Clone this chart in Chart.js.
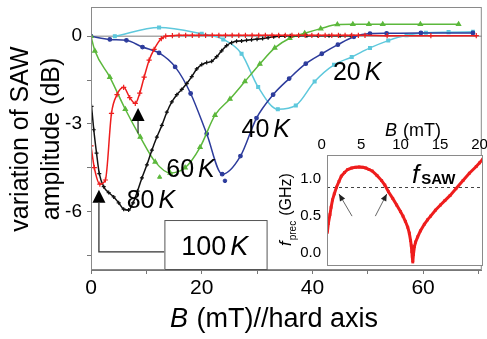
<!DOCTYPE html>
<html><head><meta charset="utf-8">
<script src="https://cdn.jsdelivr.net/npm/chart.js@4.4.1/dist/chart.umd.min.js"></script>
<style>
html,body{margin:0;padding:0;background:#fff;}
#wrap{position:relative;width:487px;height:339px;overflow:hidden;}
#main{position:absolute;left:0;top:0;}
#inset{position:absolute;left:270px;top:110px;}
</style></head><body>
<div id="wrap"><canvas id="main" width="487" height="339"></canvas><canvas id="inset" width="217" height="160"></canvas></div>
<script>
const FONT = "'Liberation Sans', Arial, Helvetica, sans-serif";

// ---------------- data (main panel) ----------------
const xTickValues = [0, 10, 20, 30, 40, 50, 60, 70];
const xTickLabels = [0, 20, 40, 60];
const yTickValues = [-7.5, -6, -4.5, -3, -1.5, 0];
const yTickLabels = [-6, -3, 0];

// 100 K (red)
const B_100K = [0, 0.6, 1.6, 2.6, 3.7, 4.7, 5.9, 7.0, 8.0, 8.8, 9.6, 10.5, 11.4, 12.7, 13.5,
  14.7, 15.9, 17.1, 18.3, 19.5, 20.7, 21.9, 23.1, 24.3, 25.5, 26.7, 27.9, 29.1, 30.3, 31.5,
  32.7, 33.9, 35.1, 36.3, 37.5, 38.7, 39.9, 41.1, 42.3, 43.5, 44.7, 45.9, 47.1, 48.3, 49.5,
  53.5, 61.4, 69.6];
const dB_100K = [-3.75, -4.5, -5.06, -4.92, -2.64, -2.0, -1.75, -2.1, -2.3, -1.95, -1.4, -0.82, -0.45, -0.08, 0.0,
  0.02, 0.03, 0.03, 0.03, 0.03, 0.03, 0.03, 0.03, 0.03, 0.03, 0.03, 0.03, 0.03, 0.03, 0.03,
  0.03, 0.03, 0.03, 0.03, 0.03, 0.03, 0.03, 0.03, 0.03, 0.03, 0.03, 0.03, 0.03, 0.03, 0.03,
  0.02, 0.02, 0.02];

// 80 K (black)
const B_80K = [0.1, 0.5, 1.0, 1.5, 2.3, 3.2, 4.1, 5.0, 5.9, 6.8, 7.6, 8.4, 9.2, 10.1, 11.0, 11.9,
  12.8, 13.7, 14.6, 15.5, 16.4, 17.3, 18.2, 19.1, 20.0, 20.9, 21.8, 22.7, 23.6, 24.5, 25.4,
  26.3, 27.2, 28.1, 29.0, 30.0, 31.0, 32.0, 33.0, 34.0, 35.0, 36.0, 37.5, 39, 41, 43, 45, 47];
const dB_80K = [-2.4, -3.2, -4.0, -4.7, -5.15, -5.35, -5.5, -5.7, -5.92, -5.95, -5.7, -5.3, -4.85, -4.4, -3.9, -3.45,
  -3.05, -2.6, -2.25, -2.0, -1.82, -1.62, -1.38, -1.12, -0.97, -0.9, -0.86, -0.7, -0.5, -0.32, -0.22,
  -0.17, -0.16, -0.14, -0.12, -0.1, -0.08, -0.05, -0.02, 0, 0.01, 0.02, 0.02, 0.02, 0.02, 0.02, 0.02, 0.02];

// 60 K (green)
const B_60K = [0, 0.7, 3.4, 6.2, 8.9, 11.6, 14.3, 17.0, 19.7, 22.4, 25.1, 27.8, 30.5, 33.2, 35.9,
  38.6, 41.5, 44.5, 47.3, 50.2, 52.7, 59.5, 66.4];
const dB_60K = [0, -0.5, -1.4, -2.5, -3.45, -4.3, -4.68, -4.5, -3.8, -2.7, -2.15, -1.55, -0.95, -0.4, -0.07,
  0.1, 0.26, 0.4, 0.41, 0.41, 0.41, 0.41, 0.41];
const B_60K_off = [12.4];
const dB_60K_off = [-4.82];

// 40 K (blue)
const B_40K = [0, 3.4, 6.4, 9.3, 12.3, 15.2, 18.0, 20.9, 23.7, 27.0, 29.9, 32.9, 35.8, 38.8, 41.7,
  44.6, 47.5, 50.4, 53.4, 59.6, 69.0];
const dB_40K = [0, -0.11, -0.14, -0.37, -0.57, -1.05, -1.96, -3.34, -4.72, -4.1, -2.8, -2.0, -1.45, -0.94, -0.6,
  -0.29, -0.02, 0.09, 0.1, 0.11, 0.11];
const B_40K_off = [24.2];
const dB_40K_off = [-4.95];

// 20 K (cyan)
const B_20K = [4.3, 12.3, 20.0, 23.9, 27.2, 30.2, 33.75, 37.0, 40.4, 43.9, 47.1, 50.4, 53.7, 57.0, 60.5, 64.6, 69.0];
const dB_20K = [0, 0.3, 0.08, -0.11, -0.6, -1.74, -2.5, -2.37, -1.55, -0.98, -0.71, -0.4, -0.15, 0.03, 0.12, 0.14, 0.15];

// ---------------- data (inset) ----------------
const insetTickX = [0, 5, 10, 15, 20];
const insetTickY = [0, 0.5, 1.0];
const fSAW = 0.9;
const B_inset = [0.72, 0.85, 1.05, 1.2, 1.38, 1.6, 1.88, 2.2, 2.49, 2.9, 3.3, 3.8, 4.3, 4.75, 5.2, 5.6, 6.0, 6.4,
  7.0, 7.6, 8.0, 8.46, 9.0, 9.5, 10.0, 10.3, 10.6, 10.9, 11.1, 11.26, 11.35, 11.42, 11.48, 11.54, 11.62,
  11.75, 11.9, 12.16, 12.5, 13.0, 13.4, 13.8, 14.4, 15.04, 15.6, 16.27, 17.0, 17.9, 18.7, 19.57, 20.0, 20.4];
const fprec_inset = [0.28, 0.40, 0.52, 0.62, 0.72, 0.80, 0.89, 0.97, 1.04, 1.09, 1.13, 1.15, 1.16, 1.165, 1.16, 1.15, 1.13, 1.11,
  1.05, 0.98, 0.92, 0.83, 0.74, 0.65, 0.56, 0.50, 0.43, 0.35, 0.27, 0.17, 0.10, 0.02, -0.05, -0.12, -0.02,
  0.09, 0.15, 0.22, 0.30, 0.39, 0.45, 0.50, 0.58, 0.65, 0.71, 0.78, 0.87, 0.98, 1.08, 1.17, 1.22, 1.27];

// ---------------- annotation layout ----------------
const tempLabels = [
  {num: '20', B: 43.7, dB: -1.5},
  {num: '40', B: 27.2, dB: -3.45},
  {num: '60', B: 13.6, dB: -4.82},
  {num: '80', B: 6.45, dB: -5.88}
];
const boxLabel = {num: '100', B0: 13.26, B1: 31.72, dBtop: -6.29, textB: 16.3, textDB: -7.49};
const arrowMarks = [
  {B: 1.43, dB: -5.25, tailDB: -7.38, toB: 13.26},
  {B: 8.5, dB: -2.46, tailDB: -3.32}
];
const insetArrows = [
  {fromB: 3.85, fromF: 0.5, toB: 2.2, toF: 0.8},
  {fromB: 6.8, fromF: 0.5, toB: 8.25, toF: 0.8}
];

const pts = (xs, ys) => xs.map((v, i) => ({x: v, y: ys[i]}));

function rich(ctx, parts, x, y) {
  let cx = x;
  for (const p of parts) {
    ctx.font = p.font;
    ctx.fillText(p.t, cx + (p.dx || 0), y + (p.dy || 0));
    cx += ctx.measureText(p.t).width + (p.gap || 0) + (p.dx || 0);
  }
  return cx;
}
function noPad(s) { s.paddingTop = 0; s.paddingBottom = 0; s.paddingLeft = 0; s.paddingRight = 0; }

const mainDeco = {
  id: 'mainDeco',
  beforeDatasetsDraw(chart) {
    const {ctx, chartArea: a, scales: {x, y}} = chart;
    ctx.save();
    ctx.strokeStyle = '#a9a9a9';
    ctx.lineWidth = 1.5;
    const y0 = y.getPixelForValue(0);
    ctx.beginPath(); ctx.moveTo(a.left, y0); ctx.lineTo(a.right, y0); ctx.stroke();
    ctx.restore();
  },
  afterDatasetsDraw(chart) {
    const {ctx, chartArea: a, scales: {x, y}} = chart;
    ctx.save();
    ctx.strokeStyle = '#8a8a8a'; ctx.lineWidth = 1;
    ctx.strokeRect(a.left + 0.5, a.top + 0.5, a.right - a.left - 1, a.bottom - a.top - 1);
    ctx.fillStyle = '#000'; ctx.textBaseline = 'alphabetic'; ctx.textAlign = 'left';
    for (const L of tempLabels) {
      rich(ctx, [{t: L.num, font: `25px ${FONT}`, gap: 4}, {t: 'K', font: `italic 25px ${FONT}`}],
        x.getPixelForValue(L.B), y.getPixelForValue(L.dB));
    }
    ctx.strokeStyle = '#333'; ctx.lineWidth = 1.3; ctx.fillStyle = '#000';
    for (const A of arrowMarks) {
      const px = x.getPixelForValue(A.B), tip = y.getPixelForValue(A.dB);
      ctx.beginPath(); ctx.moveTo(px, tip); ctx.lineTo(px - 6.5, tip + 13); ctx.lineTo(px + 6.5, tip + 13); ctx.closePath(); ctx.fill();
      const tail = y.getPixelForValue(A.tailDB);
      ctx.beginPath(); ctx.moveTo(px, tip + 13); ctx.lineTo(px, tail);
      if (A.toB !== undefined) ctx.lineTo(x.getPixelForValue(A.toB), tail);
      ctx.stroke();
    }
    const bx0 = x.getPixelForValue(boxLabel.B0), bx1 = x.getPixelForValue(boxLabel.B1);
    const by0 = y.getPixelForValue(boxLabel.dBtop);
    ctx.fillStyle = '#fff'; ctx.fillRect(bx0, by0, bx1 - bx0, a.bottom - by0);
    ctx.strokeStyle = '#555'; ctx.lineWidth = 1;
    ctx.strokeRect(bx0 + 0.5, by0 + 0.5, bx1 - bx0, a.bottom - by0 - 1);
    ctx.fillStyle = '#000';
    rich(ctx, [{t: boxLabel.num, font: `27px ${FONT}`, gap: 4}, {t: 'K', font: `italic 27px ${FONT}`}],
      x.getPixelForValue(boxLabel.textB), y.getPixelForValue(boxLabel.textDB));
    rich(ctx, [{t: 'B', font: `italic 27px ${FONT}`, gap: 1}, {t: ' (mT)//hard axis', font: `27px ${FONT}`}], 170, 327);
    ctx.font = `25px ${FONT}`; ctx.textAlign = 'center';
    ctx.save(); ctx.translate(28, 139); ctx.rotate(-Math.PI / 2); ctx.fillText('variation of SAW', 0, 0); ctx.restore();
    ctx.save(); ctx.translate(59, 139); ctx.rotate(-Math.PI / 2); ctx.fillText('amplitude (dB)', 0, 0); ctx.restore();
    ctx.restore();
  }
};

function lineDS(xs, ys, color, style, radius) {
  return {data: pts(xs, ys), showLine: true, borderColor: color, backgroundColor: color, borderWidth: 1.5,
    pointStyle: style, pointRadius: radius, pointBorderColor: color, pointBackgroundColor: color, pointBorderWidth: 1.2,
    cubicInterpolationMode: 'monotone', tension: 0.4};
}
function markDS(xs, ys, color, style, radius) {
  return {data: pts(xs, ys), showLine: false, borderColor: color, backgroundColor: color,
    pointStyle: style, pointRadius: radius, pointBorderWidth: 1};
}

const RED = '#ee1d1d', BLACK = '#111111', BLUE = '#2d3c9c', GREEN = '#5cb83c', CYAN = '#5ec8dc';

new Chart(document.getElementById('main'), {
  type: 'scatter',
  data: {datasets: [
    lineDS(B_100K, dB_100K, RED, 'cross', 2.6),
    lineDS(B_80K, dB_80K, BLACK, 'cross', 2.0),
    lineDS(B_60K, dB_60K, GREEN, 'triangle', 2.4),
    markDS(B_60K_off, dB_60K_off, GREEN, 'triangle', 2.4),
    lineDS(B_40K, dB_40K, BLUE, 'circle', 1.8),
    markDS(B_40K_off, dB_40K_off, BLUE, 'circle', 1.8),
    lineDS(B_20K, dB_20K, CYAN, 'rect', 2.0)
  ]},
  options: {
    responsive: false, animation: false, devicePixelRatio: 1,
    layout: {padding: {top: 7, right: 2, left: 0, bottom: 0}},
    plugins: {legend: {display: false}, tooltip: {enabled: false}},
    scales: {
      x: {type: 'linear', min: 0, max: 70.6,
        afterBuildTicks: s => { s.ticks = xTickValues.map(v => ({value: v})); },
        afterFit: s => { s.height = 69; noPad(s); },
        ticks: {autoSkip: false, maxRotation: 0, color: '#000', padding: 2, font: {family: FONT, size: 21},
          callback: v => xTickLabels.includes(v) ? String(v) : ''},
        grid: {drawOnChartArea: false, drawTicks: true, tickLength: 4, color: '#777'},
        border: {color: '#777'}},
      y: {type: 'linear', min: -8, max: 1,
        afterBuildTicks: s => { s.ticks = yTickValues.map(v => ({value: v})); },
        afterFit: s => { s.width = 91; noPad(s); },
        ticks: {autoSkip: false, color: '#000', padding: 5, font: {family: FONT, size: 19},
          callback: v => yTickLabels.includes(v) ? String(v) : ''},
        grid: {drawOnChartArea: false, drawTicks: true, tickLength: 4, color: '#777'},
        border: {color: '#777'}}
    }
  },
  plugins: [mainDeco]
});

const insetDeco = {
  id: 'insetDeco',
  beforeDatasetsDraw(chart) {
    const {ctx, chartArea: a, scales: {x, y}} = chart;
    ctx.save();
    ctx.fillStyle = '#fff'; ctx.fillRect(a.left, a.top, a.right - a.left, a.bottom - a.top);
    ctx.strokeStyle = '#444'; ctx.lineWidth = 1; ctx.setLineDash([3, 3]);
    const yf = Math.round(y.getPixelForValue(fSAW)) + 0.5;
    ctx.beginPath(); ctx.moveTo(a.left, yf); ctx.lineTo(a.right, yf); ctx.stroke();
    ctx.restore();
  },
  afterDatasetsDraw(chart) {
    const {ctx, chartArea: a, scales: {x, y}} = chart;
    ctx.save();
    ctx.strokeStyle = '#8a8a8a'; ctx.lineWidth = 1;
    ctx.strokeRect(a.left + 0.5, a.top + 0.5, a.right - a.left - 1, a.bottom - a.top - 1);
    ctx.strokeStyle = '#555'; ctx.fillStyle = '#222'; ctx.lineWidth = 0.9;
    for (const A of insetArrows) {
      const x0 = x.getPixelForValue(A.fromB), y0 = y.getPixelForValue(A.fromF);
      const x1 = x.getPixelForValue(A.toB), y1 = y.getPixelForValue(A.toF);
      ctx.beginPath(); ctx.moveTo(x0, y0); ctx.lineTo(x1, y1); ctx.stroke();
      const ang = Math.atan2(y1 - y0, x1 - x0), L = 7, W = 3;
      ctx.beginPath(); ctx.moveTo(x1, y1);
      ctx.lineTo(x1 - L * Math.cos(ang) + W * Math.sin(ang), y1 - L * Math.sin(ang) - W * Math.cos(ang));
      ctx.lineTo(x1 - L * Math.cos(ang) - W * Math.sin(ang), y1 - L * Math.sin(ang) + W * Math.cos(ang));
      ctx.closePath(); ctx.fill();
    }
    ctx.fillStyle = '#000'; ctx.textAlign = 'left'; ctx.textBaseline = 'alphabetic';
    rich(ctx, [{t: 'f', font: `italic 26px ${FONT}`, gap: 2}, {t: 'SAW', font: `bold 15px ${FONT}`, dy: 1}], 142, 73);
    rich(ctx, [{t: 'B', font: `italic 18px ${FONT}`, gap: 1}, {t: ' (mT)', font: `18px ${FONT}`}], 115, 26);
    ctx.save(); ctx.translate(21, 136); ctx.rotate(-Math.PI / 2);
    rich(ctx, [{t: 'f', font: `italic 17px ${FONT}`, gap: 1}, {t: 'prec', font: `10px ${FONT}`, dy: 5, gap: 5},
      {t: '(GHz)', font: `16px ${FONT}`}], 0, 0);
    ctx.restore();
    ctx.restore();
  }
};

new Chart(document.getElementById('inset'), {
  type: 'scatter',
  data: {datasets: [{data: pts(B_inset, fprec_inset), showLine: true, borderColor: RED, backgroundColor: RED,
    borderWidth: 3, tension: 0, pointStyle: 'rect', pointRadius: 2, pointBorderWidth: 0}]},
  options: {
    responsive: false, animation: false, devicePixelRatio: 1,
    layout: {padding: {top: 0, right: 0, left: 0, bottom: 0}},
    plugins: {legend: {display: false}, tooltip: {enabled: false}},
    scales: {
      x: {type: 'linear', position: 'top', min: 0.68, max: 20.43,
        afterBuildTicks: s => { s.ticks = insetTickX.map(v => ({value: v})); },
        afterFit: s => { s.height = 45; noPad(s); },
        ticks: {autoSkip: false, maxRotation: 0, color: '#000', padding: 1, font: {family: FONT, size: 15}},
        grid: {display: false, drawTicks: false}, border: {display: false}},
      y: {type: 'linear', min: -0.174, max: 1.326,
        afterBuildTicks: s => { s.ticks = insetTickY.map(v => ({value: v})); },
        afterFit: s => { s.width = 57; noPad(s); },
        ticks: {autoSkip: false, color: '#000', padding: 6, font: {family: FONT, size: 15},
          callback: v => Number(v).toFixed(1)},
        grid: {display: false, drawTicks: false}, border: {display: false}}
    }
  },
  plugins: [insetDeco]
});
</script>
</body></html>
